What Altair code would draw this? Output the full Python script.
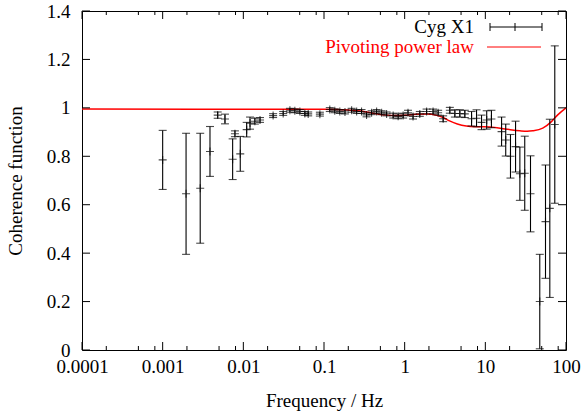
import altair as alt
import pandas as pd

# Cyg X1 coherence data (frequency in Hz, coherence, 1-sigma error)
freq = [0.001, 0.00195, 0.00292, 0.00386, 0.00481, 0.00592, 0.00737, 0.00787, 0.00916, 0.0110, 0.0121, 0.0139, 0.0161,
        0.0234, 0.0312, 0.0378, 0.0435, 0.0502, 0.0579, 0.0637, 0.0889,
        0.118, 0.136, 0.157, 0.182, 0.220, 0.254, 0.292, 0.337, 0.389, 0.449, 0.518, 0.597,
        0.720, 0.830, 0.957, 1.10, 1.27, 1.54, 1.87, 2.25, 2.60, 3.00, 3.63, 4.19, 4.83, 5.57,
        6.75, 7.78, 8.97, 10.4, 11.9,
        15.9, 17.9, 20.5, 23.7, 26.8, 30.8, 36.3, 47.3, 55.7, 63.0, 72.6]
coh = [0.785, 0.645, 0.668, 0.82, 0.97, 0.954, 0.788, 0.893, 0.81, 0.91, 0.937, 0.945, 0.95,
       0.968, 0.977, 0.99, 0.988, 0.985, 0.977, 0.975, 0.974,
       0.993, 0.988, 0.985, 0.983, 0.99, 0.985, 0.985, 0.971, 0.98, 0.985, 0.98, 0.975,
       0.968, 0.965, 0.968, 0.98, 0.964, 0.975, 0.985, 0.985, 0.98, 0.955, 0.99, 0.977, 0.977, 0.975,
       0.955, 0.957, 0.94, 0.95, 0.954,
       0.902, 0.867, 0.80, 0.84, 0.728, 0.73, 0.645, 0.2, 0.53, 0.585, 0.931]
err = [0.122, 0.25, 0.227, 0.103, 0.013, 0.02, 0.084, 0.012, 0.072, 0.03, 0.025, 0.012, 0.01,
       0.008, 0.008, 0.008, 0.008, 0.008, 0.008, 0.008, 0.008,
       0.008, 0.008, 0.008, 0.008, 0.008, 0.008, 0.008, 0.008, 0.008, 0.008, 0.008, 0.008,
       0.01, 0.01, 0.01, 0.01, 0.01, 0.01, 0.01, 0.01, 0.01, 0.012, 0.012, 0.015, 0.015, 0.015,
       0.03, 0.035, 0.03, 0.038, 0.036,
       0.06, 0.066, 0.09, 0.105, 0.11, 0.153, 0.157, 0.195, 0.234, 0.368, 0.325]

# Pivoting power law model curve
model_freq = [0.0001, 0.1, 0.2, 0.3, 0.4, 0.55, 0.75, 1.0, 1.4, 1.9, 2.5, 3.0, 3.6, 4.5, 5.8, 8.0,
              11.4, 17.6, 26.8, 33.0, 38.8, 51.5, 66.0, 79.0, 100.0]
model_coh = [0.995, 0.994, 0.991, 0.986, 0.978, 0.971, 0.968, 0.969, 0.974, 0.975, 0.969, 0.960, 0.946,
             0.933, 0.925, 0.922, 0.921, 0.913, 0.905, 0.903, 0.905, 0.916, 0.943, 0.971, 1.0]

x_major = [0.0001, 0.001, 0.01, 0.1, 1, 10, 100]
x_minor = [0.0002, 0.0005, 0.0008, 0.002, 0.005, 0.008, 0.02, 0.05, 0.08,
           0.2, 0.5, 0.8, 2, 5, 8, 20, 50, 80]
y_major = [0, 0.2, 0.4, 0.6, 0.8, 1.0, 1.2, 1.4]

W, H = 484, 339
FONT = "Liberation Serif"
FS = 19

df = pd.DataFrame({"f": freq, "c": coh, "e": err})
df["lo"] = (df["c"] - df["e"]).clip(lower=0)
df["hi"] = df["c"] + df["e"]
mdf = pd.DataFrame({"f": model_freq, "c": model_coh})

xs = alt.Scale(type="log", domain=[0.0001, 100])
ys = alt.Scale(domain=[0, 1.4])
xaxis = alt.Axis(values=x_major, format="~g", title="Frequency / Hz", grid=False, ticks=False,
                 tickSize=0, domain=False, labelPadding=7, titlePadding=15, labelFlush=False)
yaxis = alt.Axis(values=y_major, format="~g", title="Coherence function", grid=False, ticks=False,
                 tickSize=0, domain=False, labelPadding=12, titlePadding=21)


def X(field):
    return alt.X(field, type="quantitative", scale=xs, axis=xaxis)


def Y(field):
    return alt.Y(field, type="quantitative", scale=ys, axis=yaxis)


plus = "M-1,0L1,0M0,-1L0,1"
hbar = "M-1,0L1,0"

base = alt.Chart(df)
bars = base.mark_rule(color="black", strokeWidth=1.1, clip=True).encode(x=X("f"), y=Y("lo"), y2="hi")
cap_lo = base.mark_point(shape=hbar, size=64, color="black", strokeWidth=1.1, filled=False, clip=True).encode(
    x=X("f"), y=Y("lo"))
cap_hi = base.mark_point(shape=hbar, size=64, color="black", strokeWidth=1.1, filled=False, clip=True).encode(
    x=X("f"), y=Y("hi"))
pts = base.mark_point(shape=plus, size=64, color="black", strokeWidth=1.1, filled=False).encode(
    x=X("f"), y=Y("c"))

model = alt.Chart(mdf).mark_line(color="#ff0000", strokeWidth=1.5, interpolate="monotone").encode(
    x=X("f"), y=Y("c"))

# inward ticks (gnuplot style, mirrored)
xmaj = alt.Chart(pd.DataFrame({"t": x_major}))
xmin = alt.Chart(pd.DataFrame({"t": x_minor}))
ymaj = alt.Chart(pd.DataFrame({"t": y_major}))
tick_layers = [
    xmaj.mark_rule(color="black").encode(x=X("t"), y=alt.value(H), y2=alt.value(H - 8)),
    xmaj.mark_rule(color="black").encode(x=X("t"), y=alt.value(0), y2=alt.value(8)),
    xmin.mark_rule(color="black").encode(x=X("t"), y=alt.value(H), y2=alt.value(H - 4)),
    xmin.mark_rule(color="black").encode(x=X("t"), y=alt.value(0), y2=alt.value(4)),
    ymaj.mark_rule(color="black").encode(y=Y("t"), x=alt.value(0), x2=alt.value(8)),
    ymaj.mark_rule(color="black").encode(y=Y("t"), x=alt.value(W), x2=alt.value(W - 8)),
]

# key (top right, gnuplot style)
key = alt.Chart(pd.DataFrame({"k": [0]}))
legend_layers = [
    key.mark_text(text="Cyg X1", align="right", baseline="middle", font=FONT, fontSize=FS, color="black").encode(
        x=alt.value(392), y=alt.value(16)),
    key.mark_rule(color="black").encode(x=alt.value(408), x2=alt.value(460), y=alt.value(16)),
    key.mark_rule(color="black").encode(x=alt.value(408), y=alt.value(12), y2=alt.value(20)),
    key.mark_rule(color="black").encode(x=alt.value(460), y=alt.value(12), y2=alt.value(20)),
    key.mark_rule(color="black").encode(x=alt.value(433), y=alt.value(12), y2=alt.value(20)),
    key.mark_text(text="Pivoting power law", align="right", baseline="middle", font=FONT, fontSize=FS,
                  color="#ff0000").encode(x=alt.value(392), y=alt.value(36)),
    key.mark_rule(color="#ff0000").encode(x=alt.value(405), x2=alt.value(459), y=alt.value(36)),
]

chart = alt.layer(
    model, bars, cap_lo, cap_hi, pts, *tick_layers, *legend_layers
).properties(
    width=W, height=H,
    autosize=alt.AutoSizeParams(type="none"),
    padding={"left": 82, "top": 11, "right": 15, "bottom": 65},
    background="white",
).configure_view(
    stroke="black", strokeWidth=1
).configure_axis(
    labelFont=FONT, titleFont=FONT, labelFontSize=FS, titleFontSize=FS,
    labelColor="black", titleColor="black", titleFontWeight="normal"
)

chart.save("out.html", embed_options={"renderer": "svg", "actions": False})
